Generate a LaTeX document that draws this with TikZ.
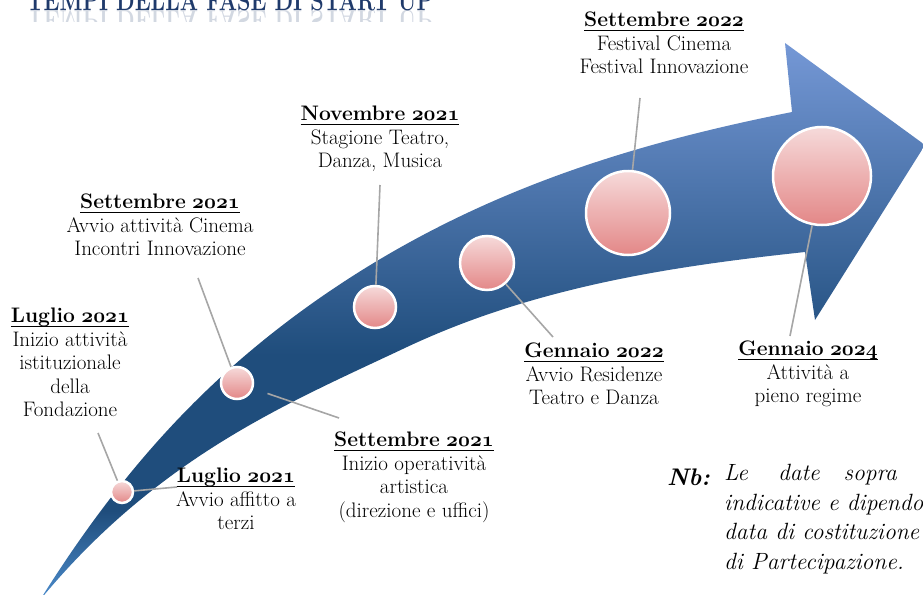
\documentclass[tikz,border=0pt]{standalone}
\usepackage{tikz}

\definecolor{navyblue}{HTML}{1F4D7C}
\definecolor{headblue}{HTML}{7598D6}
\definecolor{tailblue}{HTML}{4C8CCC}
\definecolor{titleblue}{HTML}{1F3A6B}
\definecolor{pinktop}{HTML}{F6DADA}
\definecolor{pinkbot}{HTML}{E38787}
\definecolor{leadergray}{HTML}{A6A6A6}

\pgfdeclareverticalshading{arrowfill}{100bp}{color(0bp)=(tailblue); color(25bp)=(tailblue); color(33bp)=(navyblue); color(47bp)=(navyblue); color(75bp)=(headblue); color(100bp)=(headblue)}

% bold date with old-style figures and a thick underline
\newcommand{\datehead}[2]{\sbox0{\textbf{#1} {\usefont{OML}{cmm}{b}{it}#2}}\rlap{\rule[-4.5pt]{\wd0}{1.4pt}}\usebox0}

\tikzset{
    ball/.style={circle, draw=white, line width=2.5pt, top color=pinktop, bottom color=pinkbot, inner sep=0pt},
    leader/.style={draw=leadergray, line width=1.6pt},
    milestone/.style={align=center, inner sep=0pt, anchor=north, font=\fontsize{21}{23.5}\selectfont},
    title/.style={anchor=base, inner sep=0pt, text=titleblue, xscale=.77, font=\bfseries\fontsize{28}{32}\selectfont},
}

\begin{document}
\begin{tikzpicture}[x=1pt, y=-1pt]
    \useasboundingbox (0,0) rectangle (923,594);
    \clip (0,0) rectangle (923,594);

    % Title and its reflection
    \node[title] (heading) at (230,11) {TEMPI DELLA FASE DI START UP};
    \begin{scope}
        \clip (0,11) rectangle (460,22);
        \node[title, yscale=-1, opacity=.2] at (230,11) {TEMPI DELLA FASE DI START UP};
    \end{scope}

    % Curved arrow
    \shade[shading=arrowfill] (40,600) .. controls (130,456) and (217,372) .. (307,307)
        .. controls (467,192) and (632,144) .. (792,112)
        -- (785,43) -- (925,145) -- (815,320) -- (805,252)
        .. controls (675,266) and (537,286) .. (407,347)
        .. controls (318,389) and (229,427) .. (140,500)
        .. controls (107,527) and (73,560) .. (40,600) -- cycle;

    % Milestone circles
    \foreach \name/\x/\y/\size in {b1/122/492/22, b2/237/383/32, b3/375/307/42, b4/487/263/54, b5/628/213/84, b6/822/176/98} {
        \node[ball, minimum size=\size] (\name) at (\x,\y) {};
    }

    % Labels
    \node[milestone] (jul21a) at (70,308) {\datehead{Luglio}{2021}\\Inizio attività\\istituzionale\\della\\Fondazione};
    \node[milestone] (jul21b) at (236,468) {\datehead{Luglio}{2021}\\Avvio affitto a\\terzi};
    \node[milestone] (sep21a) at (160,194) {\datehead{Settembre}{2021}\\Avvio attività Cinema\\Incontri Innovazione};
    \node[milestone] (nov21) at (380,106) {\datehead{Novembre}{2021}\\Stagione Teatro,\\Danza, Musica};
    \node[milestone] (sep21b) at (414,432) {\datehead{Settembre}{2021}\\Inizio operatività\\artistica\\(direzione e uffici)};
    \node[milestone] (jan22) at (594,343) {\datehead{Gennaio}{2022}\\Avvio Residenze\\Teatro e Danza};
    \node[milestone] (sep22) at (664,12) {\datehead{Settembre}{2022}\\Festival Cinema\\Festival Innovazione};
    \node[milestone] (jan24) at (808,341) {\datehead{Gennaio}{2024}\\Attività a\\pieno regime};

    % Leader line ends
    \coordinate (jul21a-end) at (98,433);
    \coordinate (jul21b-end) at (177,487);
    \coordinate (sep21a-end) at (198,278);
    \coordinate (sep21b-end) at (339,418);
    \coordinate (nov21-end) at (380,185);
    \coordinate (jan22-end) at (553,337);
    \coordinate (sep22-end) at (640,98);
    \coordinate (jan24-end) at (790,336);

    % Leader lines
    \draw[leader] (b1) -- (jul21a-end);
    \draw[leader] (b1) -- (jul21b-end);
    \draw[leader] (b2) -- (sep21a-end);
    \draw[leader, shorten <=15pt] (b2) -- (sep21b-end);
    \draw[leader] (b3) -- (nov21-end);
    \draw[leader] (b4) -- (jan22-end);
    \draw[leader] (b5) -- (sep22-end);
    \draw[leader] (b6) -- (jan24-end);

    % Note
    \node[anchor=west, inner sep=0pt, font=\bfseries\itshape\fontsize{24}{28}\selectfont] (nb) at (667,477) {Nb:};
    \node[anchor=north west, align=left, inner sep=0pt, font=\itshape\fontsize{23.5}{29.5}\selectfont] (nbtext) at (724,464) {Le\hspace{30pt}date\hspace{24pt}sopra\\indicative e dipendo\\data di costituzione\\di Partecipazione.};
\end{tikzpicture}
\end{document}
